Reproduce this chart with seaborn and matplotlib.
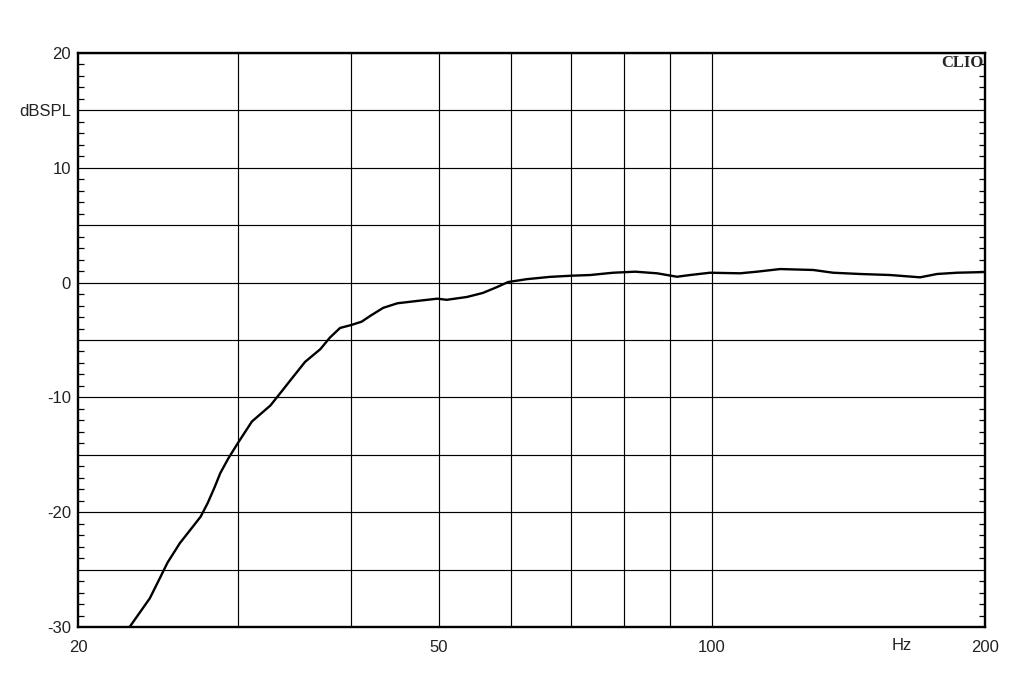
import matplotlib
matplotlib.use("Agg")
import matplotlib.pyplot as plt
import seaborn as sns
import pandas as pd
import numpy as np
from matplotlib.ticker import FixedLocator, NullFormatter, FixedFormatter

freq_hz = [22.8, 24.0, 24.6, 25.1, 25.9, 27.3, 27.8, 28.3, 28.7, 29.3, 30.0, 31.1, 32.6,
           33.6, 34.3, 35.6, 37.0, 37.9, 38.9, 40.0, 41.1, 42.0, 43.4, 45.0, 47.3, 49.8,
           51.0, 53.7, 55.9, 57.9, 59.6, 62.5, 66.3, 70.0, 73.4, 77.8, 82.3, 87.0, 91.5,
           94.6, 99.5, 107.4, 112.1, 118.9, 129.3, 136.0, 145.6, 157.2, 169.6, 177.1,
           186.3, 200.0]
spl_db = [-30.0, -27.5, -25.8, -24.4, -22.7, -20.4, -19.2, -17.8, -16.6, -15.3, -14.0,
          -12.1, -10.7, -9.4, -8.5, -6.9, -5.8, -4.8, -3.95, -3.7, -3.4, -2.9, -2.2, -1.8,
          -1.6, -1.4, -1.5, -1.25, -0.9, -0.4, 0.05, 0.3, 0.5, 0.6, 0.66, 0.86, 0.95, 0.81,
          0.51, 0.66, 0.86, 0.81, 0.95, 1.18, 1.1, 0.86, 0.75, 0.66, 0.46, 0.75, 0.86, 0.92]

x_grid = [30, 40, 50, 60, 70, 80, 90, 100]
x_labeled = [20, 50, 100, 200]
x_labels = ["20", "50", "100", "200"]
y_ticks = [20, 15, 10, 5, 0, -5, -10, -15, -20, -25, -30]
y_labels = ["20", "dBSPL", "10", "", "0", "", "-10", "", "-20", "", "-30"]

sns.set_style("white")
plt.rcParams["font.family"] = ["Liberation Sans", "DejaVu Sans"]

fig = plt.figure(figsize=(10.23, 6.82), dpi=100)
ax = fig.add_axes([78 / 1023, 55 / 682, 907 / 1023, 574 / 682])

df = pd.DataFrame({"f": freq_hz, "db": spl_db})
sns.lineplot(data=df, x="f", y="db", ax=ax, color="black", linewidth=1.7, zorder=5)

ax.set_xscale("log")
ax.set_xlim(20, 200)
ax.set_ylim(-30, 20)
ax.set_xlabel("")
ax.set_ylabel("")

for xv in x_grid:
    ax.axvline(xv, color="black", linewidth=0.85, zorder=1)
for yv in y_ticks:
    ax.axhline(yv, color="black", linewidth=0.85, zorder=1)

label_size = 12
label_color = "#222222"

ax.xaxis.set_major_locator(FixedLocator(x_labeled))
ax.xaxis.set_major_formatter(FixedFormatter(x_labels))
ax.xaxis.set_minor_locator(FixedLocator([]))
ax.xaxis.set_minor_formatter(NullFormatter())
ax.tick_params(axis="x", which="major", length=0, pad=9, labelsize=label_size,
               labelcolor=label_color)

ax.yaxis.set_major_locator(FixedLocator(y_ticks))
ax.yaxis.set_major_formatter(FixedFormatter(y_labels))
ax.yaxis.set_minor_locator(FixedLocator(list(range(-30, 21))))
ax.tick_params(axis="y", which="major", length=0, pad=5, labelsize=label_size,
               labelcolor=label_color)
ax.tick_params(axis="y", which="minor", direction="in", length=4, width=0.9,
               left=True, right=True, color="black")

for s in ax.spines.values():
    s.set_visible(True)
    s.set_color("black")
    s.set_linewidth(1.7)

hz = ax.text(162, -31.0, "Hz", transform=ax.transData, ha="center", va="top",
             fontsize=label_size, color=label_color)
hz.set_clip_on(False)

ax.text(0.9985, 0.996, "CLIO", transform=ax.transAxes, ha="right", va="top",
        fontsize=12, fontweight="bold", family="Liberation Serif", zorder=6)

fig.savefig("out.png", dpi=100, facecolor="white")
